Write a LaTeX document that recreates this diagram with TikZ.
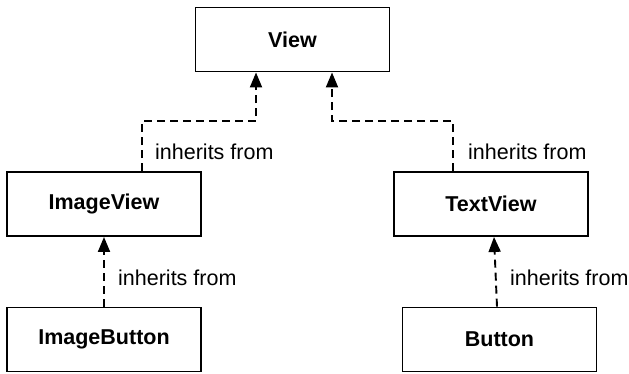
\documentclass[tikz,border=0pt]{standalone}
\usepackage{fontspec}
\setmainfont{Liberation Sans}
\usetikzlibrary{arrows.meta}
\begin{document}
\begin{tikzpicture}[x=1pt,y=-1pt,
  box/.style={draw, line width=1.9pt, minimum width=194pt, minimum height=64pt,
    font=\bfseries\fontsize{21.5}{25}\selectfont, inner sep=0pt},
  inh/.style={draw, line width=1.9pt, dash pattern=on 8pt off 5pt,
    -{Triangle[length=15pt,width=12pt]}},
  lbl/.style={font=\fontsize{21.5}{25}\selectfont, anchor=west, inner sep=0pt}]
\useasboundingbox (0,0) rectangle (629,373);
\node[box] (view) at (292.5,39.5) {View};
\node[box] (iv) at (104,204) {ImageView};
\node[box] (tv) at (491,204) {TextView};
\node[box] (ib) at (104,339.5) {ImageButton};
\node[box] (bt) at (499.5,339.5) {Button};
\draw[inh] ([xshift=38pt]iv.north) -- ++(0,-50) -| ([xshift=-36.5pt]view.south);
\draw[inh] ([xshift=-38pt]tv.north) -- ++(0,-50) -| ([xshift=39.5pt]view.south);
\draw[inh] (ib.north) -- (iv.south);
\draw[inh] ([xshift=-2.5pt]bt.north) -- ([xshift=3pt]tv.south);
\node[lbl] (l1) at (155,152) {inherits from};
\node[lbl] (l2) at (468,152) {inherits from};
\node[lbl] (l3) at (118,278) {inherits from};
\node[lbl] (l4) at (510,278) {inherits from};
\end{tikzpicture}
\end{document}
